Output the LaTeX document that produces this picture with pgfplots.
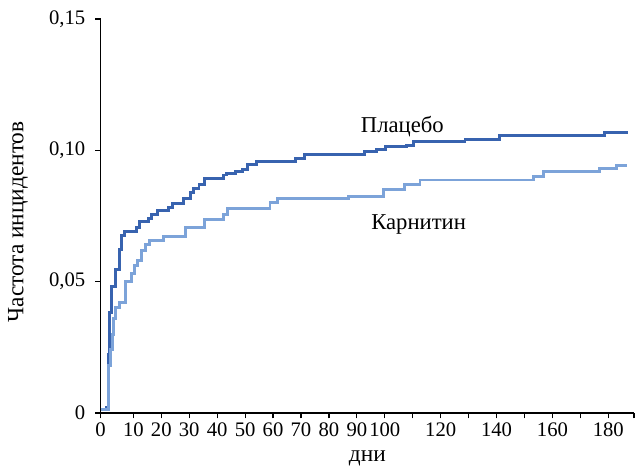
\documentclass[border=0pt]{standalone}
\usepackage{fontspec}
\setmainfont{Liberation Serif}
\usepackage{pgfplots}
\pgfplotsset{compat=1.18}

\definecolor{placebo}{RGB}{56,99,175}
\definecolor{carnitin}{RGB}{124,163,217}

\begin{document}
\begin{tikzpicture}
\begin{axis}[
    scale only axis,
    width=400pt, height=295.5pt,
    xmin=-1.7, xmax=189.2,
    ymin=0, ymax=0.15,
    axis x line*=bottom, axis y line*=left,
    axis line style={line width=0.9pt, black},
    tick style={line width=0.9pt, black},
    tick align=outside, major tick length=4pt,
    xtick={-1.7,10,20,30,40,50,60,70,80,90,100,110,120,130,140,150,160,170,180,189.2},
    xticklabels={0,10,20,30,40,50,60,70,80,90,100,,120,,140,,160,,180,},
    ytick={0,0.05,0.1,0.15},
    yticklabels={0,{0,05},{0,10},{0,15}},
    ticklabel style={font=\fontsize{15.5}{18}\selectfont},
    yticklabel style={xshift=-4pt},
    xlabel={дни},
    ylabel={Частота инцидентов},
    every axis x label/.style={at={(axis description cs:0.5,0)}, yshift=-36.5pt, anchor=base, font=\fontsize{17.5}{20}\selectfont},
    every axis y label/.style={at={(axis description cs:0,0.485)}, xshift=-62pt, rotate=90, anchor=center, font=\fontsize{17.5}{20}\selectfont},
    clip=false,
]
% Placebo
\addplot[const plot, color=placebo, line width=2.2pt] coordinates {
(-1.7,0.0014) (0.5,0.0020) (1.0,0.0223) (1.6,0.0382) (2.3,0.0483)
(3.7,0.0547) (4.9,0.0623) (5.8,0.0674) (6.8,0.0690) (11.0,0.0706)
(12.3,0.0728) (15.4,0.0741) (16.6,0.0755) (18.6,0.0770) (22.5,0.0784)
(23.9,0.0797) (27.9,0.0817) (30.3,0.0839) (31.5,0.0855) (33.5,0.0871)
(35.6,0.0894) (42.2,0.0906) (43.5,0.0912) (46.7,0.0919) (49.1,0.0928)
(51.0,0.0947) (54.2,0.0957) (67.9,0.0970) (71.1,0.0985) (92.9,0.0994)
(97.1,0.1004) (100.1,0.1013) (107.8,0.1020) (110.2,0.1032) (128.7,0.1042)
(141.2,0.1055) (178.8,0.1067) (187.0,0.1067)
};
% Carnitin
\addplot[const plot, color=carnitin, line width=2.2pt] coordinates {
(-1.7,0.0014) (1.0,0.0180) (1.8,0.0240) (2.4,0.0300) (3.0,0.0360)
(3.6,0.0400) (5.0,0.0420) (7.3,0.0500) (9.2,0.0530) (10.4,0.0560)
(11.6,0.0580) (13.0,0.0620) (14.2,0.0640) (15.8,0.0655) (20.8,0.0672)
(28.5,0.0705) (35.6,0.0737) (42.4,0.0756) (43.6,0.0778) (58.9,0.0800)
(61.5,0.0815) (86.9,0.0823) (99.4,0.0850) (106.9,0.0871) (112.6,0.0887)
(153.1,0.0902) (156.7,0.0919) (176.8,0.0932) (183.0,0.0944) (186.6,0.0944)
};
\node[anchor=base, font=\fontsize{17}{20}\selectfont] at (axis cs:106.3,0.1069) {Плацебо};
\node[anchor=base, font=\fontsize{17}{20}\selectfont] at (axis cs:112.1,0.0700) {Карнитин};
\end{axis}
\pgfresetboundingbox
\path ([shift={(-75.5pt,-39.75pt)}]current axis.south west) rectangle ([shift={(0.75pt,14.25pt)}]current axis.north east);
\end{tikzpicture}
\end{document}
